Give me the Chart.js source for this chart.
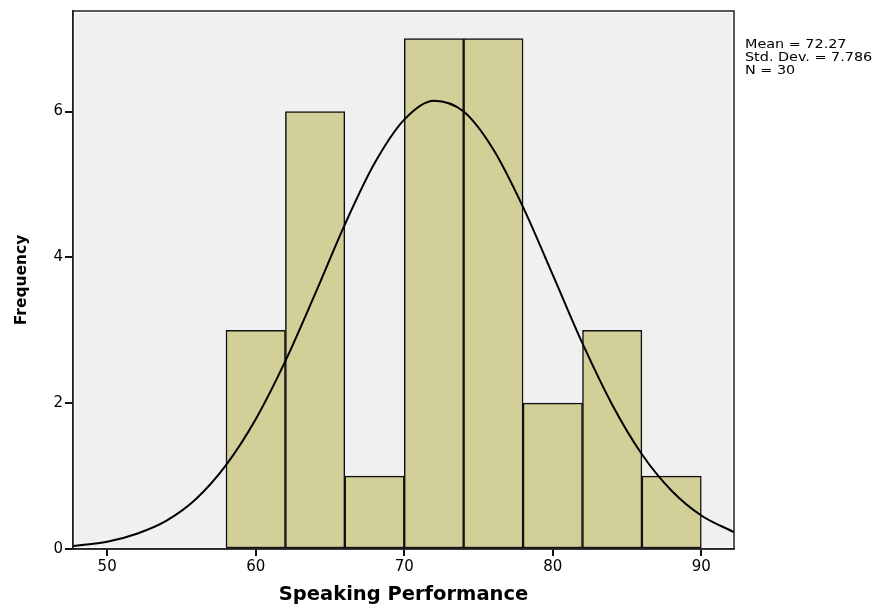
<!DOCTYPE html>
<html>
<head>
<meta charset="utf-8">
<script src="https://cdn.jsdelivr.net/npm/chart.js@4/dist/chart.umd.min.js"></script>
<style>
  html, body { margin: 0; padding: 0; background: #fff; }
  #wrap { width: 887px; height: 608px; position: relative; }
</style>
</head>
<body>
<div id="wrap"><canvas id="hist"></canvas></div>
<script>
// histogram bins (centres, width 4) and frequencies
const binCenters = [60, 64, 68, 72, 76, 80, 84, 88];
const frequency = [3, 6, 1, 7, 7, 2, 3, 1];

// normal curve
const curveX = [47.7, 50, 52, 54, 56, 58, 60, 62, 64, 66, 68, 70, 72, 74, 76, 78, 80, 82, 84, 86, 88, 90, 92.2];
const curveY = [0.04, 0.10, 0.21, 0.39, 0.69, 1.15, 1.78, 2.58, 3.50, 4.45, 5.29, 5.89, 6.15, 6.00, 5.48, 4.69, 3.76, 2.82, 1.98, 1.30, 0.80, 0.46, 0.23];

const xTicks = [50, 60, 70, 80, 90];
const yTicks = [0, 2, 4, 6];
const statsLines = ["Mean = 72.27", "Std. Dev. = 7.786", "N = 30"];

const frame = {
  id: "frame",
  beforeDatasetsDraw(chart) {
    const { ctx, chartArea: a } = chart;
    ctx.save();
    ctx.fillStyle = "#f0f0f0";
    ctx.fillRect(a.left + 2, a.top + 2, a.right - a.left - 4, a.bottom - a.top - 4);
    ctx.restore();
  },
  afterDraw(chart) {
    const { ctx, chartArea: a } = chart;
    ctx.save();
    ctx.strokeStyle = "#222";
    ctx.lineWidth = 1.5;
    ctx.strokeRect(a.left, a.top, a.right - a.left, a.bottom - a.top);
    // stats box text
    ctx.fillStyle = "#000";
    ctx.font = "12.5px 'DejaVu Sans'";
    ctx.textBaseline = "alphabetic";
    statsLines.forEach((t, i) => {
      ctx.save();
      ctx.translate(745, 47.5 + i * 13);
      ctx.scale(1.15, 1);
      ctx.fillText(t, 0, 0);
      ctx.restore();
    });
    ctx.restore();
  }
};

new Chart(document.getElementById("hist"), {
  type: "bar",
  data: {
    datasets: [
      {
        type: "line",
        data: curveX.map((x, i) => ({ x: x, y: curveY[i] })),
        borderColor: "#000",
        borderWidth: 2,
        pointRadius: 0,
        fill: false,
        cubicInterpolationMode: "monotone"
      },
      {
        type: "bar",
        data: binCenters.map((x, i) => ({ x: x, y: frequency[i] })),
        backgroundColor: "#d3cf99",
        borderColor: "#111",
        borderWidth: 1.5,
        borderSkipped: false,
        barPercentage: 1,
        categoryPercentage: 1
      }
    ]
  },
  options: {
    responsive: true,
    maintainAspectRatio: false,
    animation: false,
    layout: { padding: { left: 0, right: 153, top: 10, bottom: 0 } },
    plugins: { legend: { display: false }, tooltip: { enabled: false } },
    scales: {
      x: {
        type: "linear",
        min: 47.7,
        max: 92.2,
        offset: false,
        afterBuildTicks: s => { s.ticks = xTicks.map(v => ({ value: v })); },
        afterFit: s => { s.height = 59; },
        grid: { offset: false, drawOnChartArea: false, color: "#111", lineWidth: 2, tickLength: 7 },
        border: { color: "#222", width: 1.5 },
        ticks: { color: "#000", padding: 2, font: { family: "DejaVu Sans", size: 15 } },
        title: {
          display: true,
          text: "Speaking Performance",
          color: "#000",
          padding: { top: 0, bottom: 1 },
          font: { family: "DejaVu Sans", size: 19.5, weight: "bold" }
        }
      },
      y: {
        min: 0,
        max: 7.38,
        afterBuildTicks: s => { s.ticks = yTicks.map(v => ({ value: v })); },
        afterFit: s => { s.width = 73; },
        grid: { drawOnChartArea: false, color: "#111", lineWidth: 2, tickLength: 8 },
        border: { color: "#222", width: 1.5 },
        ticks: { color: "#000", padding: 2, font: { family: "DejaVu Sans", size: 15 } },
        title: {
          display: true,
          text: "Frequency",
          color: "#000",
          padding: { top: 13, bottom: 0 },
          font: { family: "DejaVu Sans", size: 15.5, weight: "bold" }
        }
      }
    }
  },
  plugins: [frame]
});
</script>
</body>
</html>
